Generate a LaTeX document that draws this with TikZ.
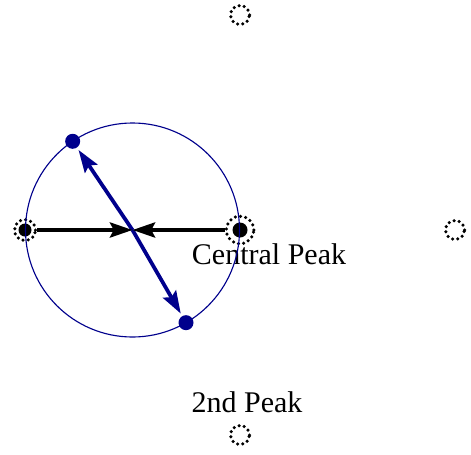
\documentclass[tikz,border=0pt]{standalone}
\usepackage{fontspec}
\setmainfont{Liberation Serif}
\usetikzlibrary{arrows.meta}
\usetikzlibrary{calc}
\usetikzlibrary{positioning}

\definecolor{peakblue}{RGB}{0,0,140}

\begin{document}
\begin{tikzpicture}[x=0.4pt, y=0.4pt,
        ring/.style={circle, draw, inner sep=0pt, line width=1.4pt, dash pattern=on 0pt off 2.1pt, line cap=round},
        peakdot/.style={circle, fill=black, inner sep=0pt},
        bluedot/.style={circle, fill=peakblue, inner sep=0pt, minimum size=6pt},
        pusharrow/.style={-{Stealth[length=9pt, width=6pt, inset=1.5pt]}, line width=1.6pt},
        swingarrow/.style={-{Stealth[length=9pt, width=6pt, inset=1.5pt]}, line width=1.5pt, peakblue, shorten >=1pt},
        peaklabel/.style={inner sep=0pt, font=\fontsize{12pt}{14pt}\selectfont}]

        \useasboundingbox (0,0) rectangle (471,454);

        % outer peaks
        \node [ring, minimum size=7.6pt] (toppeak) at (240,439) {};
        \node [ring, minimum size=7.6pt] (rightpeak) at (455,224) {};
        \node [ring, minimum size=7.6pt] (bottompeak) at (240,19) {};
        \node [peaklabel, above=4pt of bottompeak, xshift=2.8pt] (secondlabel) {2nd Peak};

        % left peak and central peak
        \node [ring, minimum size=8.4pt] (leftring) at (25,224) {};
        \node [peakdot, minimum size=5.2pt] (leftpeak) at (leftring) {};
        \node [ring, minimum size=11pt] (centerring) at (240,224) {};
        \node [peakdot, minimum size=6pt] (centerpeak) at (centerring) {};
        \node [peaklabel, anchor=base] (centrallabel) at (269,190) {Central Peak};

        % circle through both peaks
        \coordinate (mid) at (132.5,224);
        \draw [peakblue, line width=0.45pt] (mid) circle [radius=107];
        \node [bluedot] (updot) at ([shift={(124:107)}]mid) {};
        \node [bluedot] (downdot) at ([shift={(-60:107)}]mid) {};

        \draw [swingarrow] (mid) -- (updot);
        \draw [swingarrow] (mid) -- (downdot);
        \draw [pusharrow] (leftring) -- (mid);
        \draw [pusharrow] (centerring) -- (mid);

\end{tikzpicture}
\end{document}
